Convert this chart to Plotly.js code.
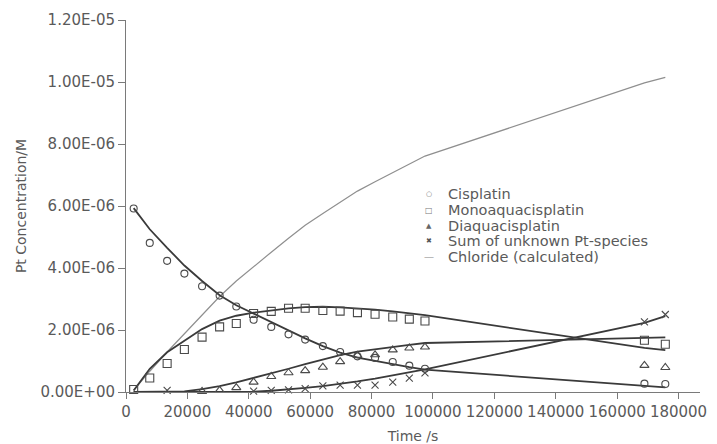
<!DOCTYPE html>
<html>
<head>
<meta charset="utf-8">
<script src="https://cdn.plot.ly/plotly-3.0.1.min.js"></script>
<style>
  html, body { margin: 0; padding: 0; background: #ffffff; }
  #chart { width: 717px; height: 444px; }
</style>
</head>
<body>
<div id="chart"></div>
<script>
// Sampling times (s)
const times = [2500, 7740, 13400, 19020, 24780, 30500, 35930, 41570, 47320, 52950,
               58370, 64130, 69760, 75400, 81140, 86900, 92300, 97400, 168900, 175700];

// Measured concentrations (in 1e-6 M)
const cisplatinObs = [5.92, 4.81, 4.23, 3.82, 3.41, 3.11, 2.76, 2.33, 2.10, 1.86,
                      1.69, 1.48, 1.29, 1.15, 1.10, 0.97, 0.85, 0.75, 0.27, 0.26];
const monoObs      = [0.08, 0.45, 0.92, 1.37, 1.77, 2.10, 2.21, 2.53, 2.60, 2.70,
                      2.70, 2.63, 2.61, 2.56, 2.51, 2.42, 2.35, 2.29, 1.67, 1.54];
const diaquaObs    = [null, null, null, null, 0.02, 0.05, 0.14, 0.32, 0.50, 0.62,
                      0.69, 0.80, 0.98, 1.18, 1.20, 1.36, 1.42, 1.45, 0.86, 0.79];
const unknownObs   = [null, null, 0.05, null, null, null, null, 0.03, 0.05, 0.07,
                      0.11, 0.20, 0.22, 0.22, 0.22, 0.32, 0.45, 0.62, 2.26, 2.50];

// Model curves at the same times (in 1e-6 M)
const cisplatinFit = [5.93, 5.25, 4.65, 4.08, 3.58, 3.12, 2.80, 2.53, 2.27, 2.00,
                      1.73, 1.48, 1.27, 1.11, 1.00, 0.89, 0.80, 0.72, 0.19, 0.15];
const monoFit      = [0.05, 0.75, 1.28, 1.66, 2.03, 2.30, 2.46, 2.56, 2.63, 2.70,
                      2.74, 2.75, 2.73, 2.70, 2.66, 2.60, 2.54, 2.48, 1.42, 1.35];
const diaquaFit    = [0.00, 0.00, 0.00, 0.02, 0.09, 0.19, 0.31, 0.45, 0.60, 0.75,
                      0.90, 1.05, 1.19, 1.30, 1.38, 1.45, 1.52, 1.58, 1.76, 1.76];
const unknownFit   = [0.00, 0.00, 0.00, 0.00, 0.00, 0.00, 0.00, 0.01, 0.04, 0.08,
                      0.13, 0.19, 0.26, 0.34, 0.43, 0.53, 0.63, 0.73, 2.23, 2.45];
const chlorideCalc = [0.05, 0.67, 1.29, 1.88, 2.48, 3.08, 3.58, 4.05, 4.51, 4.96,
                      5.38, 5.76, 6.13, 6.48, 6.78, 7.08, 7.36, 7.61, 9.97, 10.15];

// Axis ticks
const xTickVals = [0, 20000, 40000, 60000, 80000, 100000, 120000, 140000, 160000, 180000];
const yTickVals = [0, 2e-6, 4e-6, 6e-6, 8e-6, 1e-5, 1.2e-5];
const yTickText = ["0.00E+00", "2.00E-06", "4.00E-06", "6.00E-06", "8.00E-06", "1.00E-05", "1.20E-05"];

// Legend entries
const legendLabels = ["Cisplatin", "Monoaquacisplatin", "Diaquacisplatin",
                      "Sum of unknown Pt-species", "Chloride (calculated)"];

const MICRO = 1e-6;
const toM = arr => arr.map(v => (v === null ? null : v * MICRO));

const markColor = '#4a4a4a';
const fitColor = '#3a3a3a';
const textColor = '#5a5a5a';
const axisColor = '#7a7a7a';

function obsTrace(y, symbol, size) {
  return {
    x: times, y: toM(y), type: 'scatter', mode: 'markers', cliponaxis: false,
    showlegend: false,
    marker: { symbol: symbol, size: size, color: markColor, line: { color: markColor, width: 1.1 } }
  };
}
function fitTrace(y, color, width) {
  return {
    x: times, y: toM(y), type: 'scatter', mode: 'lines', cliponaxis: false,
    showlegend: false, line: { color: color, width: width }
  };
}

const data = [
  fitTrace(chlorideCalc, '#8f8f8f', 1.2),
  fitTrace(cisplatinFit, fitColor, 1.8),
  fitTrace(monoFit, fitColor, 1.8),
  fitTrace(diaquaFit, fitColor, 1.8),
  fitTrace(unknownFit, fitColor, 1.8),
  obsTrace(cisplatinObs, 'circle-open', 7),
  obsTrace(monoObs, 'square-open', 8),
  obsTrace(diaquaObs, 'triangle-up-open', 8),
  obsTrace(unknownObs, 'x-thin-open', 7)
];

// Plot area in pixels
const L = 125.5, T = 19.7, W = 575, H = 372;
const px = x => (x - L) / W;
const py = y => (T + H - y) / H;

// Compact legend: key glyphs and labels
const keyGlyphs = ["○", "□", "▲", "✖", "—"];
const keySizes = [7, 8, 7, 7, 10];
const keyColors = ['#777777', '#777777', '#666666', '#555555', '#aaaaaa'];
const rowY = [194, 210, 225.5, 241, 256.5];
const annotations = [];
legendLabels.forEach((label, i) => {
  annotations.push({
    xref: 'paper', yref: 'paper', x: px(429.5), y: py(rowY[i]),
    xanchor: 'center', yanchor: 'middle', showarrow: false,
    text: keyGlyphs[i], font: { family: 'DejaVu Sans', size: keySizes[i], color: keyColors[i] }
  });
  annotations.push({
    xref: 'paper', yref: 'paper', x: px(446), y: py(rowY[i]),
    xanchor: 'left', yanchor: 'middle', showarrow: false,
    text: label, font: { family: 'DejaVu Sans', size: 14.5, color: textColor }
  });
});

const layout = {
  width: 717, height: 444,
  margin: { l: L, r: 717 - L - W, t: T, b: 444 - T - H, pad: 0 },
  paper_bgcolor: '#ffffff', plot_bgcolor: '#ffffff',
  showlegend: false,
  font: { family: 'DejaVu Sans', size: 15, color: textColor },
  xaxis: {
    range: [0, 187000], tickvals: xTickVals, tickformat: 'd',
    showline: true, linecolor: axisColor, linewidth: 1,
    ticks: 'outside', ticklen: 6, tickcolor: axisColor, tickwidth: 1,
    showgrid: false, zeroline: false,
    tickfont: { family: 'DejaVu Sans', size: 15, color: textColor },
    title: { text: 'Time /s', standoff: 13, font: { family: 'DejaVu Sans', size: 14, color: textColor } }
  },
  yaxis: {
    range: [0, 1.2e-5], tickvals: yTickVals, ticktext: yTickText,
    showline: true, linecolor: axisColor, linewidth: 1,
    ticks: 'outside', ticklen: 7, tickcolor: axisColor, tickwidth: 1,
    showgrid: false, zeroline: false,
    tickfont: { family: 'DejaVu Sans', size: 15, color: textColor },
    title: { text: 'Pt Concentration/M', standoff: 10, font: { family: 'DejaVu Sans', size: 14, color: textColor } }
  },
  annotations: annotations
};

Plotly.newPlot('chart', data, layout, { displayModeBar: false, staticPlot: true });
</script>
</body>
</html>
